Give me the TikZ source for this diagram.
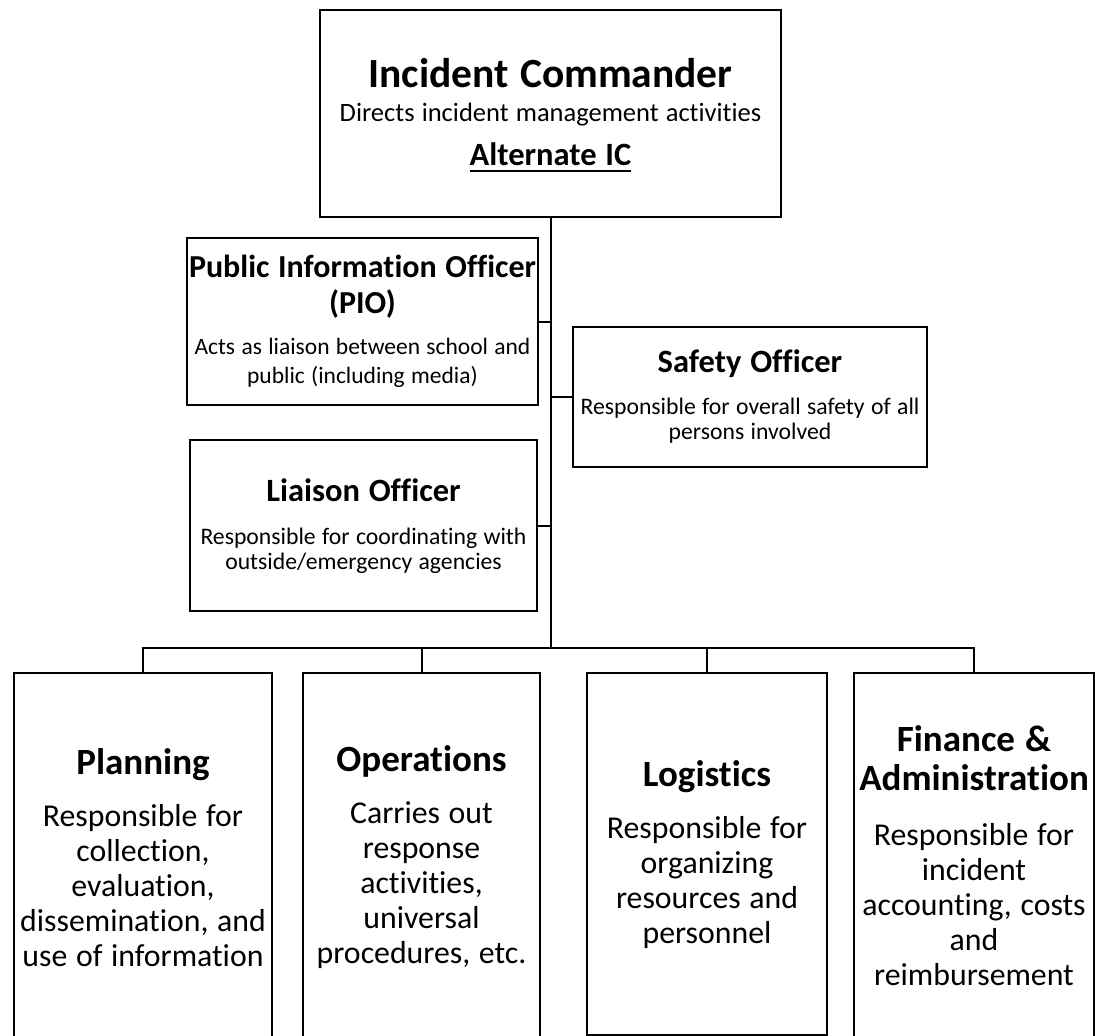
\documentclass[tikz,border=0pt]{standalone}
\usepackage{fontspec}
\setmainfont{Carlito}[Ligatures={NoCommon}]
\usetikzlibrary{calc}
\newcommand{\fs}[2]{\fontsize{#1}{#2}\selectfont\spaceskip=0.27em\relax\xspaceskip=0.27em\relax}
\newcommand{\myul}[1]{\setbox0\hbox{#1}\leavevmode\rlap{\vrule height -4pt depth 6.5pt width \wd0}\box0}
\tikzset{
  box/.style={draw, line width=2pt, inner sep=0pt, anchor=north west},
  txt/.style={inner sep=0pt, text width=500pt, align=center, anchor=center,
    execute at begin node={\parindent0pt\parskip0pt}},
  link/.style={line width=2pt}
}
\begin{document}
\begin{tikzpicture}[x=1pt,y=-1pt]
\useasboundingbox (0,0) rectangle (1095,1036);
\clip (0,0) rectangle (1095,1036);
% boxes
\node[box, minimum width=461pt, minimum height=207pt] (IC) at (319,9) {};
\node[box, minimum width=351pt, minimum height=167pt] (PIO) at (186,237) {};
\node[box, minimum width=354pt, minimum height=140pt] (SO) at (572,326) {};
\node[box, minimum width=347pt, minimum height=171pt] (LO) at (189,439) {};
\node[box, minimum width=258pt, minimum height=373pt] (PL) at (13,672) {};
\node[box, minimum width=237pt, minimum height=373pt] (OP) at (302,672) {};
\node[box, minimum width=240pt, minimum height=362pt] (LG) at (586,672) {};
\node[box, minimum width=240pt, minimum height=373pt] (FI) at (853,672) {};
% texts
\node[txt] (ICt) at ($(IC.center)+(0,2)$) {%
  {\bfseries\fs{41.5}{48}Incident Commander\par}
  {\fs{26.5}{33.4}Directs incident management activities\par}
  {\bfseries\fs{32.5}{44.3}\myul{Alternate IC}\par}};
\node[txt] (PIOt) at ($(PIO.center)+(0,0)$) {%
  {\bfseries\fs{32}{35.7}Public Information Officer\\(PIO)\par}
  \vspace{12pt}
  {\fs{23.5}{29.4}Acts as liaison between school and\\public (including media)\par}};
\node[txt] (SOt) at ($(SO.center)+(0,0)$) {%
  {\bfseries\fs{32.5}{35.7}Safety Officer\par}
  \vspace{16pt}
  {\fs{23.7}{25.5}Responsible for overall safety of all\\persons involved\par}};
\node[txt] (LOt) at ($(LO.center)+(0,1)$) {%
  {\bfseries\fs{32.5}{35.7}Liaison Officer\par}
  \vspace{17pt}
  {\fs{23.7}{25.5}Responsible for coordinating with\\outside/emergency agencies\par}};
\node[txt] (PLt) at ($(PL.center)+(0,-2)$) {%
  {\bfseries\fs{37}{40}Planning\par}
  \vspace{17pt}
  {\fs{31.8}{35}Responsible for\\collection,\\evaluation,\\dissemination, and\\use of information\par}};
\node[txt] (OPt) at ($(OP.center)+(0,-2)$) {%
  {\bfseries\fs{37}{40}Operations\par}
  \vspace{17pt}
  {\fs{31.8}{35}Carries out\\response\\activities,\\universal\\procedures, etc.\par}};
\node[txt] (LGt) at ($(LG.center)+(0,1)$) {%
  {\bfseries\fs{37}{40}Logistics\par}
  \vspace{17pt}
  {\fs{31.8}{35}Responsible for\\organizing\\resources and\\personnel\par}};
\node[txt] (FIt) at ($(FI.center)+(0,-4)$) {%
  {\bfseries\fs{37}{39.3}Finance \&\\Administration\par}
  \vspace{20pt}
  {\fs{31.8}{35}Responsible for\\incident\\accounting, costs\\and\\reimbursement\par}};
% connectors
\path (IC.south) ++(0,430) coordinate (bus);
\draw[link] (IC.south) -- (bus);
\draw[link] (PIO.east) -- (PIO.east -| bus);
\draw[link] (SO.west) -- (SO.west -| bus);
\draw[link] (LO.east) -- (LO.east -| bus);
\draw[link] (PL.north) |- (FI.north |- bus) -- (FI.north);
\draw[link] (OP.north) -- (OP.north |- bus);
\draw[link] (LG.north) -- (LG.north |- bus);
\end{tikzpicture}
\end{document}
